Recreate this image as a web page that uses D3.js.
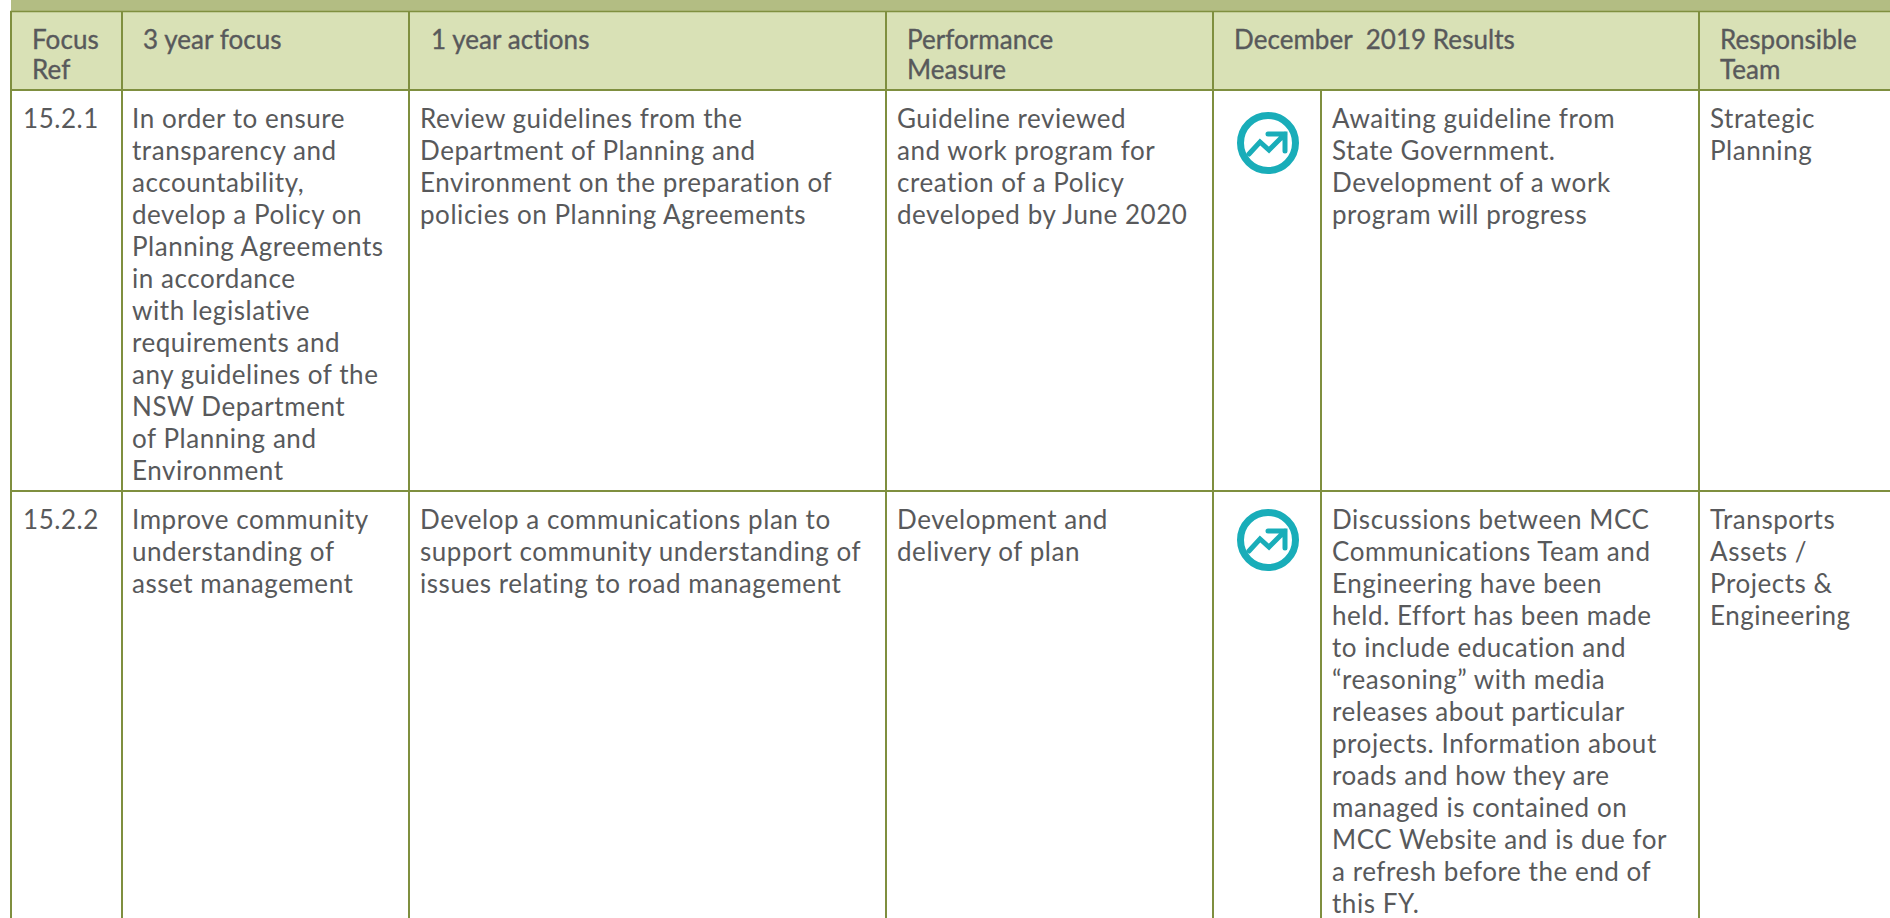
<!DOCTYPE html>
<html><head><meta charset="utf-8">
<script src="https://cdn.jsdelivr.net/npm/d3@7"></script>
<style>html,body{margin:0;padding:0;background:#fff;overflow:hidden}svg{display:block}</style>
</head><body><svg id="c" width="1890" height="918"></svg>
<script>
const headers = [
  {x:32, lines:["Focus","Ref"]},
  {x:143, lines:["3 year focus"]},
  {x:431, lines:["1 year actions"]},
  {x:907, lines:["Performance","Measure"]},
  {x:1234, lines:["December  2019 Results"]},
  {x:1720, lines:["Responsible","Team"]}
];
const columnX = [11,122,409,886,1213,1699];
const textX = {ref:23, focus:132, actions:420, measure:897, result:1332, team:1710};
const refs = ["15.2.1","15.2.2"];
const focus = [
 ["In order to ensure","transparency and","accountability,","develop a Policy on","Planning Agreements","in accordance","with legislative","requirements and","any guidelines of the","NSW Department","of Planning and","Environment"],
 ["Improve community","understanding of","asset management"]];
const actions = [
 ["Review guidelines from the","Department of Planning and","Environment on the preparation of","policies on Planning Agreements"],
 ["Develop a communications plan to","support community understanding of","issues relating to road management"]];
const measures = [
 ["Guideline reviewed","and work program for","creation of a Policy","developed by June 2020"],
 ["Development and","delivery of plan"]];
const results = [
 ["Awaiting guideline from","State Government.","Development of a work","program will progress"],
 ["Discussions between MCC","Communications Team and","Engineering have been","held. Effort has been made","to include education and","\u201Creasoning\u201D with media","releases about particular","projects. Information about","roads and how they are","managed is contained on","MCC Website and is due for","a refresh before the end of","this FY."]];
const teams = [["Strategic","Planning"],["Transports","Assets /","Projects &","Engineering"]];
const baseline = [128,529];
const iconCy = [143,540];

const FONT = "Lato, 'Open Sans', sans-serif", INK="#58595b", LINE="#7f8f3f";
const svg = d3.select("#c");
svg.append("rect").attr("x",11).attr("width",1879).attr("height",11).attr("fill","#b3bd83");
svg.append("rect").attr("x",11).attr("y",11).attr("width",1879).attr("height",79).attr("fill","#d9e1b6");

const hl = (y,w)=>svg.append("line").attr("x1",10).attr("x2",1890).attr("y1",y).attr("y2",y).attr("stroke",LINE).attr("stroke-width",w);
const vl = (x,y1,w)=>svg.append("line").attr("x1",x).attr("x2",x).attr("y1",y1).attr("y2",918).attr("stroke",LINE).attr("stroke-width",w);
hl(11.5,1.5); hl(90,2); hl(491,2);
columnX.forEach(x=>vl(x,11,2));
vl(1321,90,2);

function block(x,y,lines,size,lh,ls,stroke){
  return svg.append("g").selectAll("text").data(lines).join("text")
    .attr("x",x).attr("y",(d,i)=>y+i*lh).attr("fill",INK)
    .attr("font-family",FONT).attr("font-size",size)
    .attr("stroke",stroke?INK:"none").attr("stroke-width",stroke||0)
    .attr("letter-spacing",ls).style("white-space","pre").text(d=>d);
}
headers.forEach(h=>block(h.x,49,h.lines,26,30,0.05,0.35));
const S=26, LH=32, LS=0.55;
refs.forEach((r,i)=>{
  block(textX.ref,baseline[i],[r],S,LH,LS);
  block(textX.focus,baseline[i],focus[i],S,LH,LS);
  block(textX.actions,baseline[i],actions[i],S,LH,LS);
  block(textX.measure,baseline[i],measures[i],S,LH,LS);
  block(textX.result,baseline[i],results[i],S,LH,LS);
  block(textX.team,baseline[i],teams[i],S,LH,LS);
  const g = svg.append("g").attr("transform",`translate(1268,${iconCy[i]})`);
  g.append("circle").attr("r",27.5).attr("fill","none").attr("stroke","#19adb9").attr("stroke-width",7);
  g.append("path").attr("d","M-19,11L-8,-1L1,7L17,-9M0,-9H17V8").attr("fill","none").attr("stroke","#19adb9").attr("stroke-width",5).attr("stroke-linecap","round").attr("stroke-linejoin","miter");
});
</script></body></html>
